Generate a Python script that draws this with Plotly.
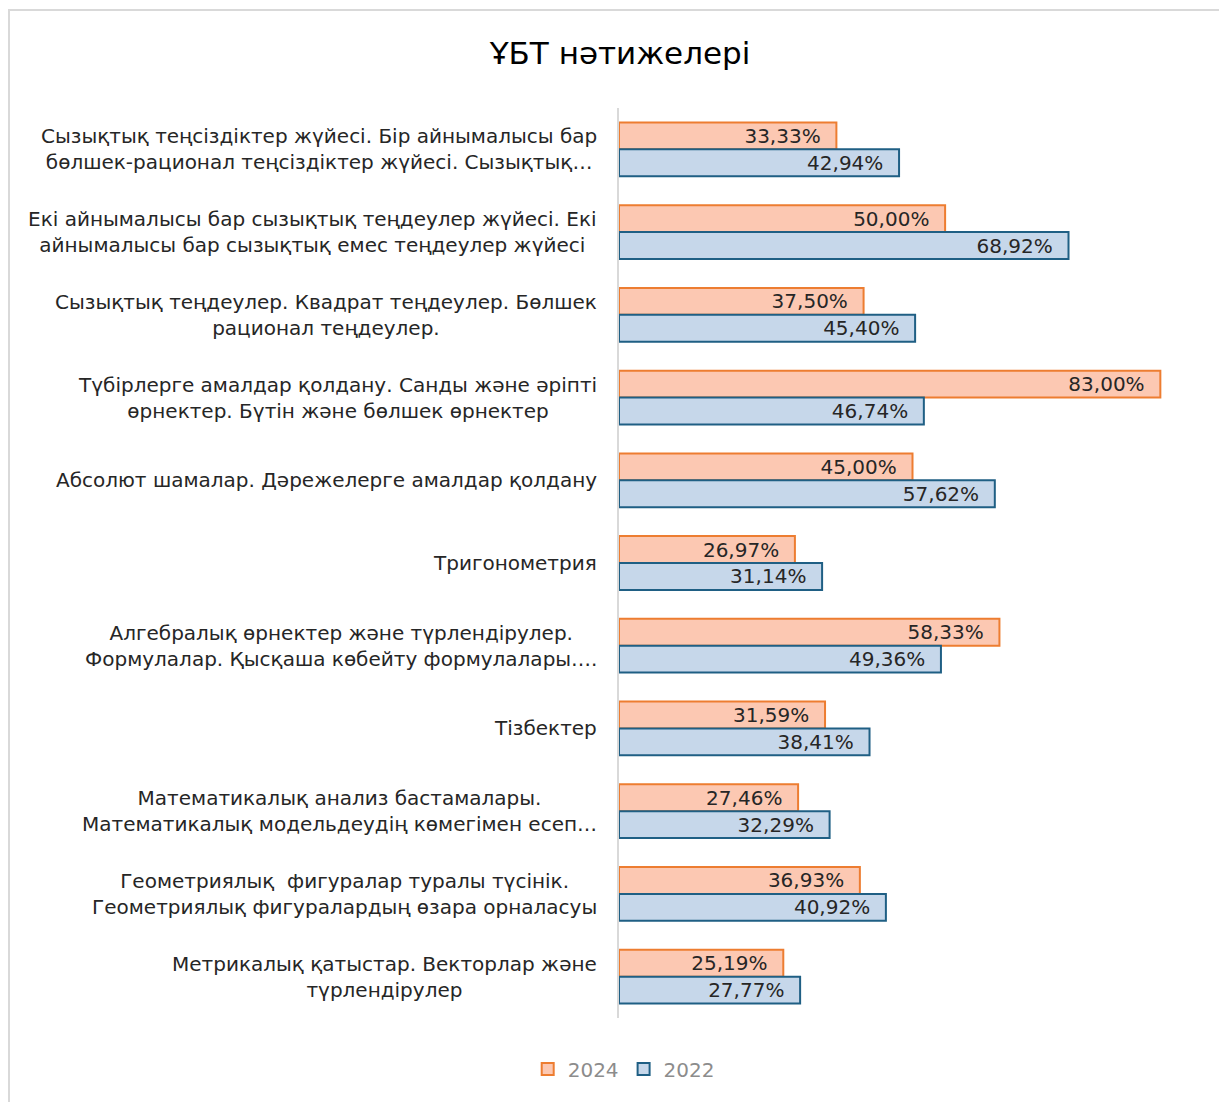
import plotly.graph_objects as go

categories = [
    "Сызықтық теңсіздіктер жүйесі. Бір айнымалысы бар<br>бөлшек-рационал теңсіздіктер жүйесі. Сызықтық…",
    "Екі айнымалысы бар сызықтық теңдеулер жүйесі. Екі<br>айнымалысы бар сызықтық емес теңдеулер жүйесі",
    "Сызықтық теңдеулер. Квадрат теңдеулер. Бөлшек<br>рационал теңдеулер.",
    "Түбірлерге амалдар қолдану. Санды және әріпті<br>өрнектер. Бүтін және бөлшек өрнектер",
    "Абсолют шамалар. Дәрежелерге амалдар қолдану",
    "Тригонометрия",
    "Алгебралық өрнектер және түрлендірулер.<br>Формулалар. Қысқаша көбейту формулалары….",
    "Тізбектер",
    "Математикалық анализ бастамалары.<br>Математикалық модельдеудің көмегімен есеп…",
    "Геометриялық  фигуралар туралы түсінік.<br>Геометриялық фигуралардың өзара орналасуы",
    "Метрикалық қатыстар. Векторлар және<br>түрлендірулер",
]
values_2024 = [33.33, 50.00, 37.50, 83.00, 45.00, 26.97, 58.33, 31.59, 27.46, 36.93, 25.19]
values_2022 = [42.94, 68.92, 45.40, 46.74, 57.62, 31.14, 49.36, 38.41, 32.29, 40.92, 27.77]
series_names = ["2024", "2022"]
title_text = "ҰБТ нәтижелері"

FONT = "DejaVu Sans"
W, H = 1219, 1094
L, R, T, B = 611, 21, 100, 84

fig = go.Figure()
fig.add_trace(go.Bar(
    name=series_names[0], y=categories, x=values_2024, orientation="h",
    marker=dict(color="#FCC8B2", line=dict(color="#ED7D31", width=2)),
    texttemplate="%{x:.2f}%\u00a0\u00a0", textposition="inside", insidetextanchor="end",
    textangle=0, constraintext="none",
    textfont=dict(family=FONT, size=20, color="#262626"),
))
fig.add_trace(go.Bar(
    name=series_names[1], y=categories, x=values_2022, orientation="h",
    marker=dict(color="#C6D7EA", line=dict(color="#1F5F84", width=2)),
    texttemplate="%{x:.2f}%\u00a0\u00a0", textposition="inside", insidetextanchor="end",
    textangle=0, constraintext="none",
    textfont=dict(family=FONT, size=20, color="#262626"),
))

for c in categories:
    fig.add_annotation(
        x=0, xref="paper", y=c, yref="y", xanchor="right", xshift=-20,
        text=c, showarrow=False, align="center",
        font=dict(family=FONT, size=20, color="#262626"),
    )

pw = W - L - R
ph = H - T - B
# chart border
fig.add_shape(type="rect", xref="paper", yref="paper",
              x0=(1 - L) / pw, x1=1.2, y0=-0.2, y1=(ph + T - 2) / ph,
              line=dict(color="#d9d9d9", width=2), fillcolor="rgba(0,0,0,0)", layer="below")

fig.update_layout(
    width=W, height=H,
    margin=dict(l=L, r=R, t=T, b=B),
    paper_bgcolor="white", plot_bgcolor="white",
    separators=",.",
    barmode="group", bargap=0.35, bargroupgap=0,
    title=dict(text=title_text, x=(620 - 8) / W, xanchor="center", y=1 - 45 / H, yanchor="middle",
               font=dict(family=FONT, size=31, color="#000000")),
    xaxis=dict(range=[0, 90], showticklabels=False, showgrid=False, zeroline=False, showline=False),
    yaxis=dict(autorange="reversed", showticklabels=False, showgrid=False, zeroline=False,
               showline=True, linecolor="#d9d9d9", linewidth=2, ticks=""),
    legend=dict(orientation="h", x=0.008, xanchor="center", y=-0.056, yanchor="middle",
                font=dict(family=FONT, size=20, color="#8c8c8c"), traceorder="normal"),
    font=dict(family=FONT),
)

fig.write_html("out.html")
